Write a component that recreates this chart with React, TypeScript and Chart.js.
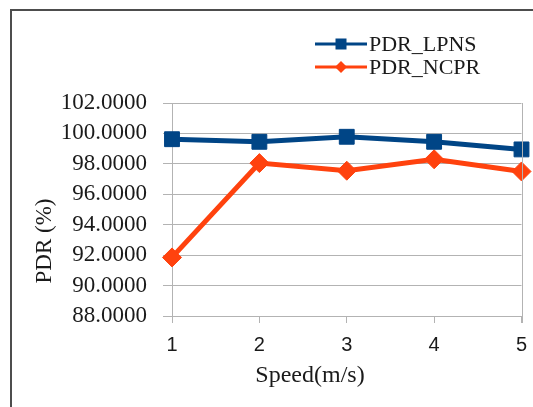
import React, { useEffect, useRef } from "react";
import { Chart, registerables } from "chart.js";

Chart.register(...registerables);

const categories = ["1", "2", "3", "4", "5"];
const lpnsValues = [99.62, 99.45, 99.78, 99.45, 98.95];
const ncprValues = [91.85, 98.05, 97.55, 98.3, 97.5];
const seriesNames = ["PDR_LPNS", "PDR_NCPR"];
const xTitle = "Speed(m/s)";
const yTitle = "PDR (%)";
const yMin = 88;
const yMax = 102;
const yStep = 2;

const BLUE = "#004586";
const ORANGE = "#ff420e";
const GRID = "#b3b3b3";
const TEXT = "#1a1a1a";
const SERIF = "'Liberation Serif', 'Times New Roman', serif";
const SANS = "'Liberation Sans', Arial, sans-serif";

const overlayPlugin = {
  id: "overlay",
  afterDraw(chart: any) {
    const ctx = chart.ctx;
    const area = chart.chartArea;
    ctx.save();
    // right plot border
    ctx.strokeStyle = GRID;
    ctx.lineWidth = 1;
    ctx.beginPath();
    ctx.moveTo(Math.round(area.right) + 0.5, area.top);
    ctx.lineTo(Math.round(area.right) + 0.5, area.bottom + 7);
    ctx.stroke();

    // axis titles
    ctx.fillStyle = TEXT;
    ctx.textAlign = "center";
    ctx.textBaseline = "middle";
    ctx.font = `24px ${SERIF}`;
    ctx.fillText(xTitle, 310, 376);
    ctx.save();
    ctx.translate(45, 241);
    ctx.rotate(-Math.PI / 2);
    ctx.font = `23px ${SERIF}`;
    ctx.fillText(yTitle, 0, 0);
    ctx.restore();

    // legend
    const ds = chart.data.datasets;
    const rows = [44, 67];
    ds.forEach((d: any, i: number) => {
      const y = rows[i];
      ctx.strokeStyle = d.borderColor;
      ctx.lineWidth = 3;
      ctx.beginPath();
      ctx.moveTo(315, y);
      ctx.lineTo(367, y);
      ctx.stroke();
      ctx.fillStyle = d.borderColor;
      const cx = 341;
      if (d.pointStyle === "rect") {
        ctx.fillRect(cx - 5.5, y - 5.5, 11, 11);
      } else {
        ctx.beginPath();
        ctx.moveTo(cx - 6, y);
        ctx.lineTo(cx, y - 6);
        ctx.lineTo(cx + 6, y);
        ctx.lineTo(cx, y + 6);
        ctx.closePath();
        ctx.fill();
      }
      ctx.fillStyle = TEXT;
      ctx.textAlign = "left";
      ctx.textBaseline = "middle";
      ctx.font = `22px ${SERIF}`;
      ctx.fillText(d.label, 369, y + 1);
    });
    ctx.restore();
  },
};

export default function App() {
  const canvasRef = useRef<HTMLCanvasElement | null>(null);

  useEffect(() => {
    if (!canvasRef.current) return;
    const chart = new Chart(canvasRef.current, {
      type: "line",
      data: {
        labels: categories,
        datasets: [
          {
            label: seriesNames[0],
            data: lpnsValues,
            borderColor: BLUE,
            backgroundColor: BLUE,
            borderWidth: 5,
            pointStyle: "rect",
            pointRadius: 10.5,
            pointBorderWidth: 1,
            tension: 0,
          },
          {
            label: seriesNames[1],
            data: ncprValues,
            borderColor: ORANGE,
            backgroundColor: ORANGE,
            borderWidth: 5,
            pointStyle: "rectRot",
            pointRadius: 9.5,
            pointBorderWidth: 1,
            tension: 0,
          },
        ],
      },
      options: {
        animation: false,
        responsive: false,
        maintainAspectRatio: false,
        layout: { padding: { top: 103, right: 10, left: 0, bottom: 0 } },
        plugins: {
          legend: { display: false },
          tooltip: { enabled: false },
        },
        scales: {
          x: {
            type: "category",
            offset: false,
            grid: {
              drawOnChartArea: false,
              drawTicks: true,
              tickLength: 7,
              color: GRID,
            },
            border: { display: true, color: GRID, width: 1 },
            ticks: {
              color: TEXT,
              font: { family: SANS, size: 20 },
              padding: 10,
              maxRotation: 0,
              autoSkip: false,
            },
            afterFit(scale: any) {
              scale.height = 91;
              scale.paddingRight = 0;
              scale.paddingLeft = 0;
            },
          },
          y: {
            min: yMin,
            max: yMax,
            grid: {
              color: GRID,
              drawTicks: true,
              tickLength: 9,
            },
            border: { display: true, color: GRID, width: 1 },
            ticks: {
              stepSize: yStep,
              autoSkip: false,
              color: TEXT,
              font: { family: SERIF, size: 23 },
              padding: 16,
              callback: (v: any) => Number(v).toFixed(4),
            },
            afterFit(scale: any) {
              scale.width = 172;
            },
          },
        },
      },
      plugins: [overlayPlugin],
    });
    return () => chart.destroy();
  }, []);

  return (
    <div
      style={{
        position: "fixed",
        left: 0,
        top: 0,
        width: 533,
        height: 407,
        background: "#fff",
        overflow: "hidden",
      }}
    >
      <canvas
        ref={canvasRef}
        width={533}
        height={407}
        style={{ position: "absolute", left: 0, top: 0, width: 533, height: 407 }}
      />
      <div
        style={{
          position: "absolute",
          left: 10,
          top: 9,
          width: 1000,
          height: 1000,
          borderTop: "2px solid #4d4d4d",
          borderLeft: "2px solid #4d4d4d",
          pointerEvents: "none",
        }}
      />
    </div>
  );
}
